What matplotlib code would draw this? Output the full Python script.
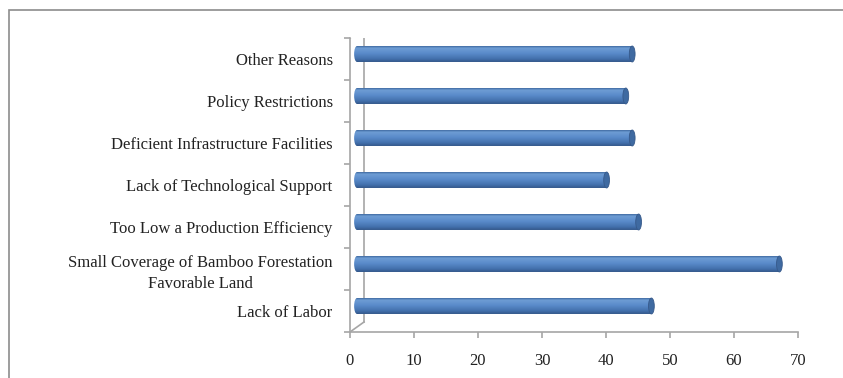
import matplotlib
matplotlib.use("Agg")
import matplotlib.pyplot as plt
import numpy as np
from matplotlib.colors import LinearSegmentedColormap
from matplotlib.patches import Ellipse, Rectangle, PathPatch
from matplotlib.path import Path
from matplotlib.transforms import Affine2D, offset_copy
from matplotlib.lines import Line2D

categories = [
    "Lack of Labor",
    "Small Coverage of Bamboo Forestation\nFavorable Land",
    "Too Low a Production Efficiency",
    "Lack of Technological Support",
    "Deficient Infrastructure Facilities",
    "Policy Restrictions",
    "Other Reasons",
]
values = [46, 66, 44, 39, 43, 42, 43]
xticks = [0, 10, 20, 30, 40, 50, 60, 70]

plt.rcParams["font.family"] = ["Liberation Serif", "DejaVu Serif"]

W, H = 843, 378
fig = plt.figure(figsize=(W / 100, H / 100), dpi=100)
fig.patch.set_facecolor("white")

# outer chart border (runs off the right and bottom edges)
fig.add_artist(Rectangle((8.5 / W, -0.1), 1.2, 1 - 9.5 / H + 0.1,
                         transform=fig.transFigure, fill=False,
                         edgecolor="#8c8c8c", linewidth=1.2))

ax = fig.add_axes([350 / W, 1 - 332 / H, 448 / W, 294 / H])
ax.set_facecolor("none")

axis_col = "#a6a6a6"
# depth of the 3D wall, in pixels
dx, dy = 14, 10
tr_bar = offset_copy(ax.transData, fig=fig, x=dx / 2, y=dy / 2, units="dots")
tr_wall = offset_copy(ax.transAxes, fig=fig, x=dx, y=dy, units="dots")

# back wall edge and the two connecting diagonals
ax.add_line(Line2D([0, 0], [0, 1], transform=tr_wall, color=axis_col, lw=1.2, zorder=1))
for yy in (0, 1):
    ax.add_line(Line2D([350 / W, (350 + dx) / W],
                       [1 - (332 - yy * 294) / H, 1 - (332 - yy * 294 - dy) / H],
                       transform=fig.transFigure, color=axis_col, lw=1.2, zorder=1))

cmap = LinearSegmentedColormap.from_list("cyl", [
    (0.0, "#34578a"), (0.2, "#4371ad"), (0.55, "#5a8bca"),
    (0.88, "#6e9dd4"), (1.0, "#3d68a0")])
grad = np.linspace(0, 1, 64).reshape(-1, 1)

bh = 0.38
cap_w = 0.9  # end-cap width in data units
for i, v in enumerate(values):
    y0, y1 = i - bh / 2, i + bh / 2
    rect = Path.unit_rectangle().transformed(Affine2D().scale(v, bh).translate(0, y0))
    left = Path.unit_circle().transformed(Affine2D().scale(cap_w / 2, bh / 2).translate(0, i))
    shape = Path.make_compound_path(rect, left)
    # origin lower: first row of grad sits at the bottom of the bar
    im = ax.imshow(grad, cmap=cmap, aspect="auto", origin="lower",
                   extent=(-cap_w / 2, v, y0, y1),
                   transform=tr_bar, zorder=3, interpolation="bilinear")
    clip = PathPatch(shape, transform=tr_bar, facecolor="none", edgecolor="none")
    ax.add_patch(clip)
    im.set_clip_path(clip)
    ax.add_patch(Ellipse((v, i), cap_w, bh, transform=tr_bar, facecolor="#3f6aa1",
                         edgecolor="#36598a", lw=0.6, zorder=4))

ax.set_xlim(0, 70)
ax.set_ylim(-0.5, len(categories) - 0.5)

ax.set_xticks(xticks)
ax.set_yticks(range(len(categories)))
ax.set_yticklabels(categories, multialignment="center", linespacing=1.45)
ax.set_yticks(np.arange(-0.5, len(categories)), minor=True)

for s in ("top", "right"):
    ax.spines[s].set_visible(False)
for s in ("left", "bottom"):
    ax.spines[s].set_color(axis_col)
    ax.spines[s].set_linewidth(1.2)

ax.tick_params(axis="x", direction="out", length=4, width=1.2, color=axis_col,
               pad=11, labelsize=12, labelcolor="#222222")
ax.tick_params(axis="y", which="major", length=0, pad=12.5, labelsize=12,
               labelcolor="#222222")
ax.tick_params(axis="y", which="minor", direction="out", length=4, width=1.2,
               color=axis_col)

fig.savefig("out.png", dpi=100, facecolor="white")
